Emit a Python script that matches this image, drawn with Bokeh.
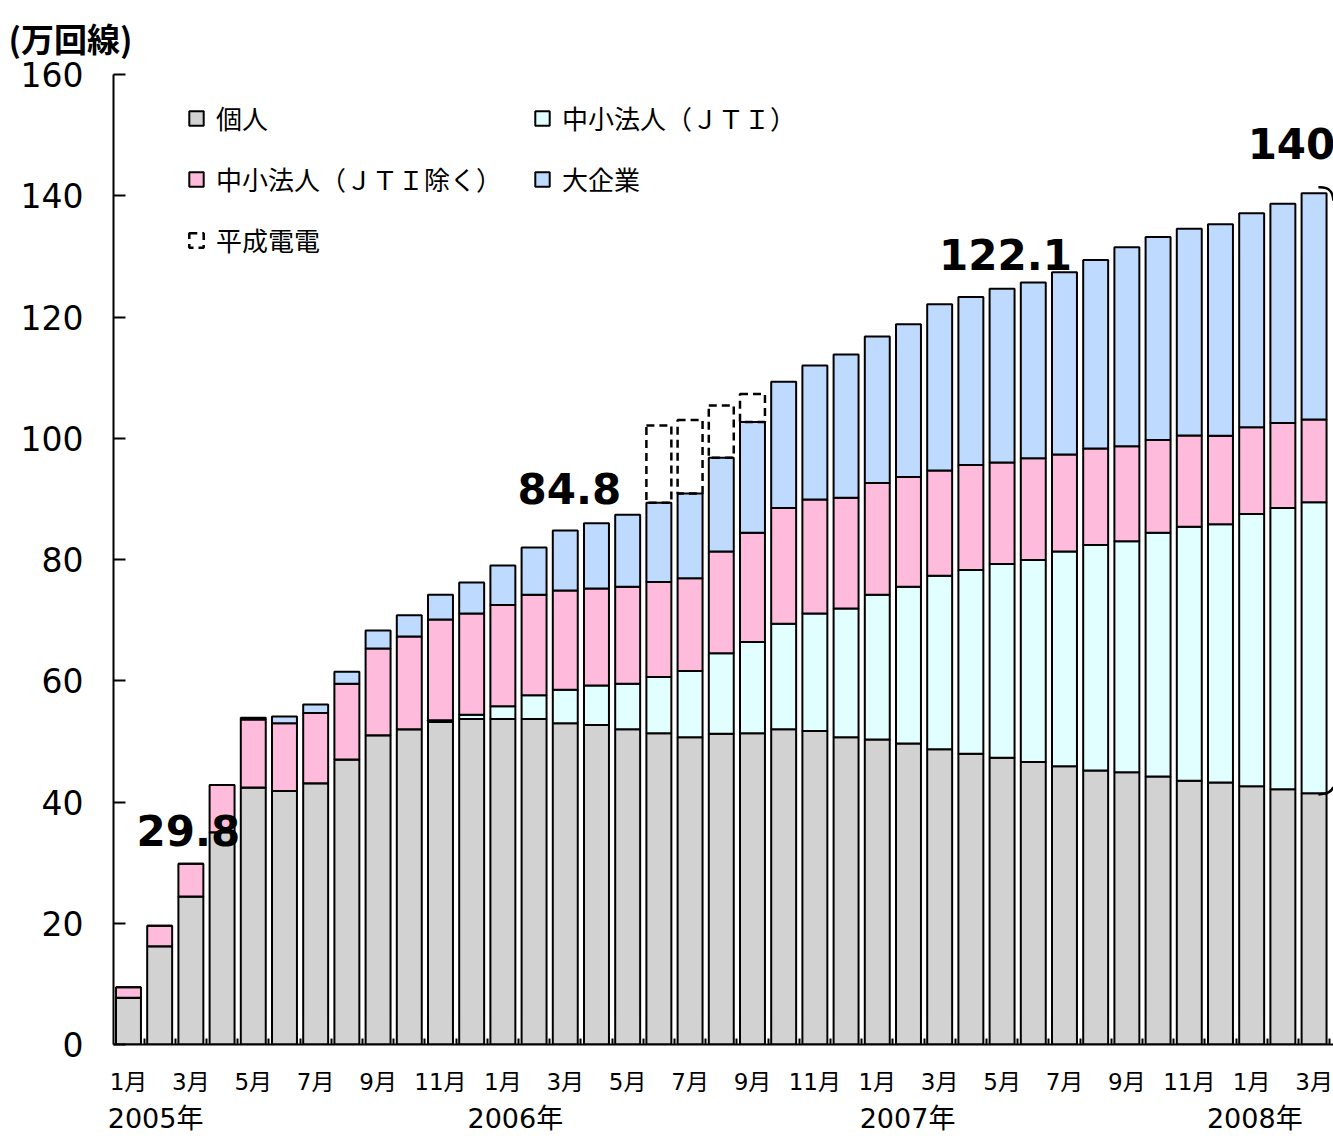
from bokeh.plotting import figure
from bokeh.models import (ColumnDataSource, Range1d, FixedTicker, Legend, LegendItem,
                          LinearAxis)
from bokeh.core.properties import value
from bokeh.embed import file_html
from bokeh.resources import INLINE

# ---------------- data (万回線) ----------------
month_labels = ["1月", "2月", "3月", "4月", "5月", "6月", "7月", "8月", "9月", "10月", "11月", "12月",
                "1月", "2月", "3月", "4月", "5月", "6月", "7月", "8月", "9月", "10月", "11月", "12月",
                "1月", "2月", "3月", "4月", "5月", "6月", "7月", "8月", "9月", "10月", "11月", "12月",
                "1月", "2月", "3月"]
personal = [7.7, 16.2, 24.4, 35.0, 42.4, 41.8, 43.1, 47.0, 51.0, 52.0, 53.2, 53.7,
            53.7, 53.7, 53.0, 52.7, 52.0, 51.35, 50.7, 51.25, 51.35, 52.0, 51.7, 50.7,
            50.3, 49.65, 48.7, 47.95, 47.3, 46.6, 45.9, 45.2, 44.9, 44.2, 43.5, 43.2,
            42.6, 42.1, 41.45]
sme_jti = [0, 0, 0, 0, 0, 0, 0, 0, 0, 0, 0.3, 0.7,
           2.1, 3.9, 5.5, 6.5, 7.5, 9.25, 10.9, 13.3, 15.05, 17.4, 19.4, 21.2,
           23.9, 25.85, 28.6, 30.3, 31.95, 33.3, 35.4, 37.2, 38.1, 40.2, 41.9, 42.6,
           44.9, 46.4, 48.0]
sme_other = [1.75, 3.4, 5.4, 7.8, 11.2, 11.2, 11.6, 12.5, 14.3, 15.3, 16.6, 16.7,
             16.7, 16.6, 16.4, 16.0, 16.0, 15.7, 15.3, 16.75, 18.0, 19.1, 18.8, 18.3,
             18.4, 18.1, 17.4, 17.35, 16.75, 16.8, 16.0, 15.9, 15.7, 15.3, 15.05, 14.6,
             14.3, 14.0, 13.65]
large = [0, 0, 0, 0, 0.3, 1.1, 1.4, 2.0, 3.0, 3.5, 4.1, 5.1,
         6.5, 7.8, 9.9, 10.8, 11.9, 13.05, 14.0, 15.5, 18.3, 20.8, 22.1, 23.6,
         24.2, 25.2, 27.4, 27.7, 28.65, 29.0, 30.1, 31.1, 32.8, 33.5, 34.1, 34.9,
         35.3, 36.2, 37.3]
heisei = [0] * 17 + [12.75, 12.1, 8.6, 4.6] + [0] * 18   # 平成電電 (2006年6月〜9月)

callout_index = [2, 14, 26, 38]
callout_text = ["29.8", "84.8", "122.1", "140.4"]
year_labels = ["2005年", "2006年", "2007年", "2008年"]
y_ticks = [0, 20, 40, 60, 80, 100, 120, 140, 160]

series_names = ["個人", "中小法人（ＪＴＩ）", "中小法人（ＪＴＩ除く）", "大企業"]

# ---------------- layout / style ----------------
n = len(personal)
xs = list(range(n))
colors = ["#d2d2d2", "#e2ffff", "#ffbbdc", "#bedbff"]
JP = "Noto Sans CJK JP"
NUM = "DejaVu Sans"
MIX = "DejaVu Sans, Noto Sans CJK JP"
PITCH = 31.2   # px per month

src = ColumnDataSource(dict(x=xs, personal=personal, sme_jti=sme_jti,
                            sme_other=sme_other, large=large))

p = figure(width=1333, height=1138, output_backend="svg", toolbar_location=None,
           x_range=Range1d(-0.48, -0.48 + 1220 / PITCH), y_range=Range1d(0, 160),
           min_border_left=113, min_border_right=0, min_border_top=74, min_border_bottom=94)
p.outline_line_color = None
p.xgrid.visible = False
p.ygrid.visible = False
p.background_fill_color = "white"

# unit label as title
p.title.text = "(万回線)"
p.title.align = "left"
p.title.vertical_align = "top"
p.title.offset = -105
p.title.standoff = 22
p.title.text_font = JP
p.title.text_font_size = "33px"
p.title.text_font_style = "bold"
p.title.text_color = "black"

stack_keys = ["personal", "sme_jti", "sme_other", "large"]
bar_renderers = p.vbar_stack(stack_keys, x="x", width=0.8, source=src,
                             fill_color=colors, line_color="black", line_width=2)

totals = [a + b + c + d for a, b, c, d in zip(personal, sme_jti, sme_other, large)]
hx = [i for i in xs if heisei[i] > 0]
hsrc = ColumnDataSource(dict(x=hx, bottom=[totals[i] for i in hx],
                             top=[totals[i] + heisei[i] for i in hx]))
h_r = p.vbar(x="x", bottom="bottom", top="top", width=0.8, source=hsrc,
             fill_color=None, line_color="black", line_width=2.5, line_dash="8 5")

# callout numbers
cx_off = [-0.08, 0.13, 2.11, 0.0]
cy_off = [5.5, 6.9, 8.2, 8.2]
csrc = ColumnDataSource(dict(
    x=[callout_index[k] + cx_off[k] for k in range(4)],
    y=[totals[callout_index[k]] + cy_off[k] for k in range(4)],
    t=callout_text))
p.text(x="x", y="y", text="t", source=csrc, text_font=value(NUM),
       text_font_style="bold", text_font_size="42px", text_align="center",
       text_baseline="middle", text_color="black")

# partial bracket at the right edge (anchored to the last bar)
last = n - 1
p.bezier(x0=[last + 0.14, last + 0.14], y0=[totals[last] + 1.0, personal[last] - 0.2],
         x1=[last + 0.62, last + 0.62], y1=[totals[last] - 1.2, personal[last] + 1.0],
         cx0=[last + 0.53, last + 0.46], cy0=[totals[last] + 1.1, personal[last] - 0.1],
         cx1=[last + 0.6, last + 0.55], cy1=[totals[last], personal[last] + 0.3],
         line_color="black", line_width=2.5)

# y axis
ya = p.yaxis[0]
ya.ticker = FixedTicker(ticks=y_ticks)
ya.major_tick_in = 12
ya.major_tick_out = 0
ya.minor_tick_line_color = None
ya.axis_line_width = 2
ya.major_tick_line_width = 2
ya.major_label_standoff = 30
ya.major_label_text_font = NUM
ya.major_label_text_font_size = "33px"
ya.major_label_text_color = "black"

# x axis (months)
xa = p.xaxis[0]
major = list(range(0, n, 2))
xa.ticker = FixedTicker(ticks=major, minor_ticks=[i - 0.5 for i in range(n + 1)])
xa.major_label_overrides = {i: month_labels[i] for i in major}
xa.major_tick_in = 0
xa.major_tick_out = 0
xa.minor_tick_in = 6
xa.minor_tick_out = 0
xa.minor_tick_line_width = 2
xa.axis_line_width = 2
xa.major_label_standoff = 24
xa.major_label_text_font = MIX
xa.major_label_text_font_size = "23px"
xa.major_label_text_color = "black"

# second axis below: years
year_x = [0.87, 12.4, 24.97, 36.1]
ax2 = LinearAxis(ticker=FixedTicker(ticks=year_x),
                 major_label_overrides={year_x[k]: year_labels[k] for k in range(4)},
                 axis_line_color=None, major_tick_line_color=None,
                 minor_tick_line_color=None, major_label_standoff=5,
                 major_tick_in=0, major_tick_out=0,
                 major_label_text_font=MIX, major_label_text_font_size="27px",
                 major_label_text_color="black")
p.add_layout(ax2, "below")

# legends (two columns)
common = dict(orientation="vertical", label_text_font=JP, label_text_font_size="26px",
              label_text_color="black", glyph_width=18, glyph_height=18, label_height=25,
              label_standoff=11, spacing=24, padding=0, margin=0,
              border_line_color=None, background_fill_alpha=0)
leg1 = Legend(items=[LegendItem(label=series_names[0], renderers=[bar_renderers[0]]),
                     LegendItem(label=series_names[2], renderers=[bar_renderers[2]]),
                     LegendItem(label="平成電電", renderers=[h_r])],
              location=(74, 786), **common)
leg2 = Legend(items=[LegendItem(label=series_names[1], renderers=[bar_renderers[1]]),
                     LegendItem(label=series_names[3], renderers=[bar_renderers[3]])],
              location=(420, 847), **common)
p.add_layout(leg1)
p.add_layout(leg2)

open("out.html", "w").write(file_html(p, INLINE))
